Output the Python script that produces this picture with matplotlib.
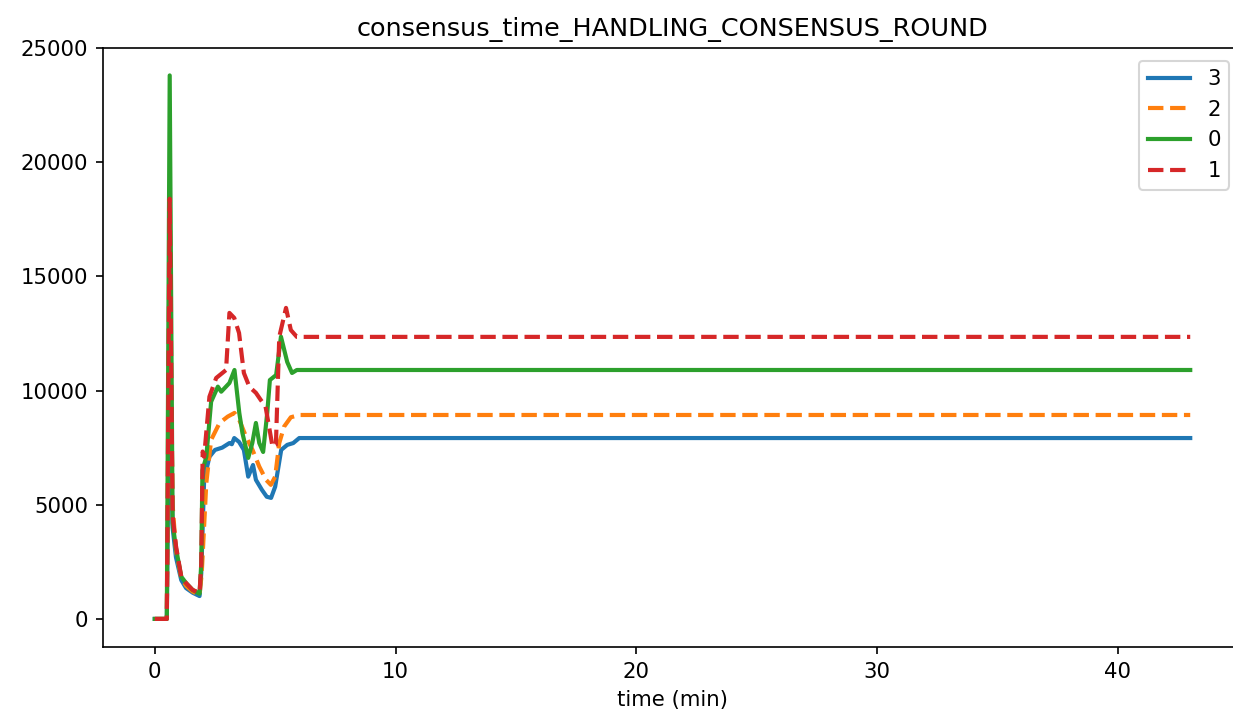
import matplotlib
matplotlib.use("Agg")
import matplotlib.pyplot as plt

# consensus round handling time per node (time in minutes)
t3 = [0, 0.5, 0.62, 0.74, 0.88, 1.1, 1.3, 1.57, 1.86, 1.93, 2.05, 2.27, 2.5, 2.8, 3.1, 3.2, 3.3,
      3.5, 3.7, 3.88, 4.08, 4.2, 4.45, 4.65, 4.83, 5.0, 5.25, 5.5, 5.75, 6.0, 43]
v3 = [0, 0, 12000, 4000, 2700, 1700, 1350, 1150, 1000, 2000, 6100, 7100, 7400, 7500, 7700, 7650, 7920,
      7750, 7400, 6230, 6740, 6090, 5650, 5350, 5300, 5790, 7400, 7620, 7700, 7920, 7920]

t2 = [0, 0.5, 0.62, 0.74, 0.88, 1.1, 1.3, 1.57, 1.86, 1.95, 2.14, 2.34, 2.69, 3.03, 3.31, 3.51,
      3.79, 4.06, 4.34, 4.62, 4.82, 5.0, 5.17, 5.37, 5.65, 6.0, 43]
v2 = [0, 0, 15000, 5000, 3000, 1800, 1450, 1200, 1050, 2000, 5950, 7840, 8580, 8860, 9020, 8710,
      7980, 7400, 6670, 6090, 5870, 6230, 7700, 8420, 8830, 8930, 8930]

t0 = [0, 0.5, 0.62, 0.74, 0.88, 1.1, 1.3, 1.57, 1.86, 1.93, 1.98, 2.14, 2.34, 2.62, 2.76, 3.1, 3.31,
      3.51, 3.64, 3.88, 4.05, 4.2, 4.34, 4.5, 4.67, 4.78, 5.04, 5.24, 5.5, 5.7, 5.9, 43]
v0 = [0, 0, 23800, 4200, 3100, 1850, 1570, 1270, 1100, 2400, 6500, 7100, 9510, 10170, 9950, 10330, 10900,
      9020, 8140, 7050, 7700, 8580, 7700, 7310, 9020, 10460, 10680, 12360, 11250, 10770, 10900, 10900]

t1 = [0, 0.5, 0.62, 0.74, 0.88, 1.1, 1.3, 1.57, 1.86, 1.93, 1.99, 2.05, 2.27, 2.55, 2.96, 3.1, 3.3,
      3.5, 3.7, 3.93, 4.2, 4.4, 4.6, 4.89, 5.03, 5.17, 5.45, 5.65, 5.9, 43]
v1 = [0, 0, 18400, 4500, 3200, 1850, 1570, 1270, 1140, 2400, 7330, 7100, 9730, 10550, 10900, 13400, 13180,
      12520, 10770, 10160, 9900, 9590, 9300, 7540, 7620, 12350, 13620, 12650, 12350, 12350]

plt.rcParams["font.size"] = 10.2

fig = plt.figure(figsize=(1233 / 150, 716 / 150), dpi=150)
ax = fig.add_axes([103 / 1233, 69 / 716, 1139 / 1233, 599 / 716])

ax.plot(t3, v3, color="C0", linestyle="-", linewidth=2, label="3")
ax.plot(t2, v2, color="C1", linestyle="--", linewidth=2, label="2")
ax.plot(t0, v0, color="C2", linestyle="-", linewidth=2, label="0")
ax.plot(t1, v1, color="C3", linestyle="--", linewidth=2, label="1")

ax.set_xlim(-2.15, 45.15)
ax.set_ylim(-1230, 25000)
ax.set_xlabel("time (min)")
ax.set_title("consensus_time_HANDLING_CONSENSUS_ROUND")
ax.legend(loc="upper right", borderaxespad=0.6)

fig.savefig("out.png", dpi=150)
